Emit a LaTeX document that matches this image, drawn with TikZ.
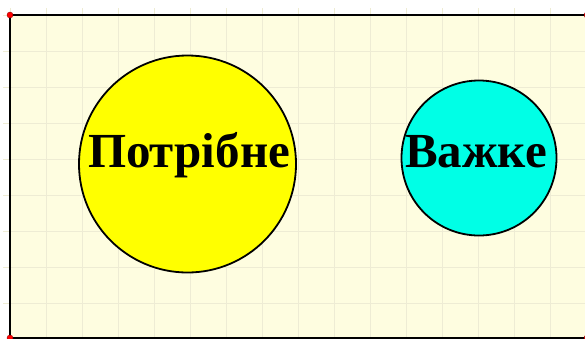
\documentclass[tikz,border=0pt]{standalone}
\usepackage{fontspec}
\setmainfont{Liberation Serif}
\definecolor{bgcol}{RGB}{254,253,224}
\definecolor{gridcol}{RGB}{238,236,212}
\definecolor{yel}{RGB}{255,255,0}
\definecolor{cya}{RGB}{0,255,230}
\tikzset{
  disc/.style={circle, draw=black, line width=1.8pt, inner sep=0pt},
  lbl/.style={font=\fontsize{49}{49}\selectfont\bfseries, text=black, inner sep=0pt},
  corner/.style={circle, fill=red, draw=red!60!black, line width=0.4pt, inner sep=0pt, minimum size=6pt}
}
\begin{document}
\begin{tikzpicture}[x=1pt,y=-1pt]
\useasboundingbox (0,0) rectangle (585,338);
\begin{scope}
\clip (0,0) rectangle (585,338);
\fill[white] (0,0) rectangle (585,338);
\fill[bgcol] (10,15) rectangle (590,340);
\foreach \x in {10,46,...,590} \draw[gridcol, line width=1pt] (\x,8) -- (\x,340);
\foreach \y in {15,51,...,340} \draw[gridcol, line width=1pt] (3,\y) -- (590,\y);
\draw[black, line width=2.6pt] (10,15) rectangle (587,338);
\node[corner] (c1) at (10,15) {};
\node[corner] (c2) at (587,15) {};
\node[corner] (c3) at (10,338) {};
\node[corner] (c4) at (587,338) {};
\end{scope}
\node[disc, fill=yel, minimum size=217pt] (a) at (187.5,164) {};
\node[disc, fill=cya, minimum size=155pt] (b) at (479,158) {};
\node[lbl, anchor=base] (ta) at (189,167) {Потрібне};
\node[lbl, anchor=base] (tb) at (476,167) {Важке};
\end{tikzpicture}
\end{document}
